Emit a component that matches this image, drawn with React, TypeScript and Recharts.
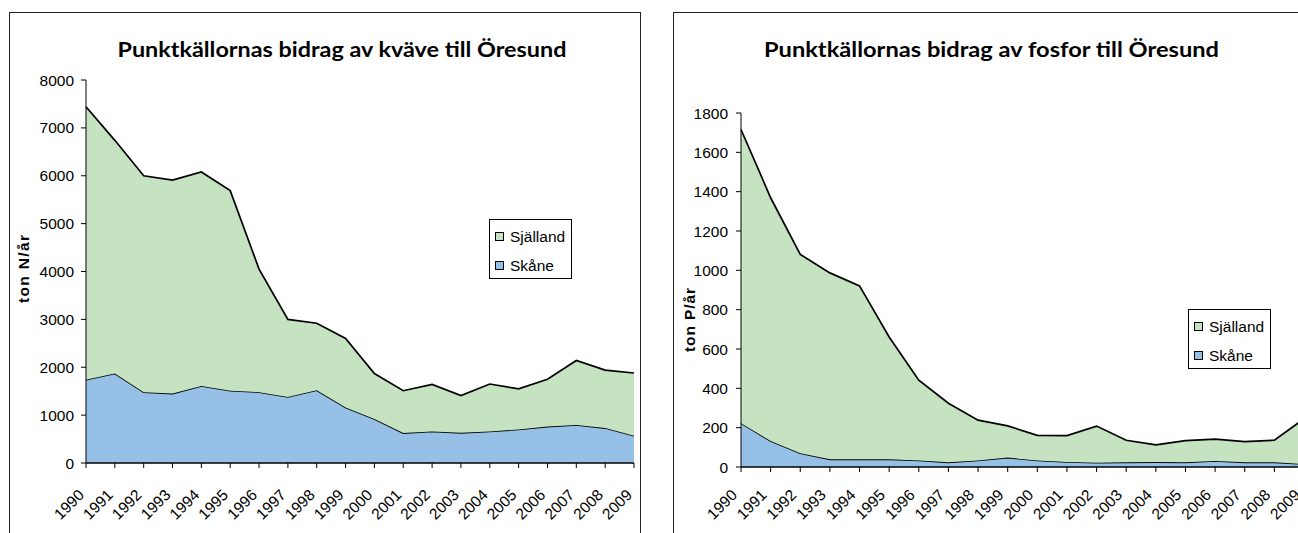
import React from 'react';
import { AreaChart, Area, XAxis, YAxis, Legend } from 'recharts';

const years = ['1990','1991','1992','1993','1994','1995','1996','1997','1998','1999','2000','2001','2002','2003','2004','2005','2006','2007','2008','2009'];

// Kväve (ton N/år)
const nSkane = [1740, 1870, 1480, 1450, 1610, 1510, 1480, 1380, 1520, 1160, 920, 625, 660, 630, 660, 700, 760, 795, 730, 570];
const nSjalland = [5700, 4870, 4520, 4460, 4470, 4180, 2570, 1620, 1400, 1440, 950, 885, 980, 780, 990, 850, 990, 1345, 1210, 1310];
const nTicks = [0, 1000, 2000, 3000, 4000, 5000, 6000, 7000, 8000];

// Fosfor (ton P/år)
const pSkane = [223, 132, 70, 39, 39, 39, 33, 24, 33, 48, 33, 26, 22, 24, 25, 24, 31, 24, 24, 15];
const pSjalland = [1493, 1237, 1011, 948, 882, 622, 408, 300, 205, 161, 128, 134, 186, 112, 88, 110, 111, 105, 112, 230];
const pTicks = [0, 200, 400, 600, 800, 1000, 1200, 1400, 1600, 1800];

const SKANE = 'Skåne';
const SJALLAND = 'Själland';
const fills: Record<string, string> = { [SKANE]: '#97C0E7', [SJALLAND]: '#C5E2C1' };

const nData = years.map((y, i) => ({ year: y, [SKANE]: nSkane[i], [SJALLAND]: nSjalland[i] }));
const pData = years.map((y, i) => ({ year: y, [SKANE]: pSkane[i], [SJALLAND]: pSjalland[i] }));

const ARIAL = '"Liberation Sans", Arial, sans-serif';
const FS = 15.5;

const makeXTick = (dx: number, dy: number) => (props: any) => {
  const { x, y, payload } = props;
  const ax = x + dx;
  const ay = y + dy;
  return (
    <text x={ax} y={ay} transform={`rotate(-45, ${ax}, ${ay})`} textAnchor="end" fontSize={FS} fontFamily={ARIAL} fill="#000">
      {payload.value}
    </text>
  );
};

const LegendBox = (props: any) => {
  const items = [SJALLAND, SKANE];
  return (
    <div style={{ width: 83, height: 60, border: '1px solid #000', background: '#fff', boxSizing: 'border-box', position: 'relative', fontFamily: ARIAL, fontSize: FS, color: '#000' }}>
      {items.map((name, i) => (
        <div key={name} style={{ position: 'absolute', left: 5, top: 12 + i * 28.5 - 4, height: 17, display: 'flex', alignItems: 'center', whiteSpace: 'nowrap' }}>
          <span style={{ width: 9, height: 9, border: '1px solid #000', background: fills[name], display: 'inline-block', boxSizing: 'border-box', marginRight: 6 }} />
          <span style={{ lineHeight: '17px' }}>{name}</span>
        </div>
      ))}
    </div>
  );
};

type PanelProps = {
  data: any[];
  ticks: number[];
  max: number;
  left: number;
  width: number;
  top: number;
  yAxisWidth: number;
  xAxisHeight: number;
  tickMargin: number;
  xdx: number;
  xdy: number;
  legendLeft: number;
  legendTop: number;
};

const Panel = (p: PanelProps) => (
  <div style={{ position: 'absolute', left: p.left, top: 0 }}>
    <AreaChart width={p.width} height={533} data={p.data} margin={{ top: p.top, right: 10, bottom: 10, left: 0 }}>
      <XAxis
        dataKey="year"
        height={p.xAxisHeight}
        interval={0}
        tickSize={5}
        tickMargin={0}
        axisLine={{ stroke: '#000', strokeWidth: 1.5 }}
        tickLine={{ stroke: '#000' }}
        tick={makeXTick(p.xdx, p.xdy)}
      />
      <YAxis
        type="number"
        domain={[0, p.max]}
        ticks={p.ticks}
        interval={0}
        width={p.yAxisWidth}
        tickSize={5}
        tickMargin={p.tickMargin}
        axisLine={{ stroke: '#000' }}
        tickLine={{ stroke: '#000' }}
        tick={{ fontSize: FS, fontFamily: ARIAL, fill: '#000' }}
      />
      <Area type="linear" dataKey={SKANE} name={SKANE} stackId="a" stroke="#000" strokeWidth={1.7} fill={fills[SKANE]} fillOpacity={1} dot={false} activeDot={false} isAnimationActive={false} />
      <Area type="linear" dataKey={SJALLAND} name={SJALLAND} stackId="a" stroke="#000" strokeWidth={1.7} fill={fills[SJALLAND]} fillOpacity={1} dot={false} activeDot={false} isAnimationActive={false} />
      <Legend
        layout="horizontal"
        verticalAlign="middle"
        align="center"
        content={LegendBox}
        wrapperStyle={{ left: p.legendLeft, top: p.legendTop, width: 'auto', height: 'auto' }}
      />
    </AreaChart>
  </div>
);

export default function App() {
  return (
    <div style={{ position: 'fixed', left: 0, top: 0, width: 1298, height: 533, overflow: 'hidden', background: '#fff' }}>
      <svg width={1298} height={533} style={{ position: 'absolute', left: 0, top: 0 }}>
        <rect x={9.5} y={12.5} width={631} height={600} fill="#fff" stroke="#222" strokeWidth={1} />
        <rect x={673.5} y={12.5} width={638} height={600} fill="#fff" stroke="#222" strokeWidth={1} />
        <text x={117.5} y={57} fontFamily="Lato, sans-serif" fontWeight={700} fontSize={20} textLength={449} lengthAdjust="spacingAndGlyphs" fill="#000">
          Punktkällornas bidrag av kväve till Öresund
        </text>
        <text x={764} y={57} fontFamily="Lato, sans-serif" fontWeight={700} fontSize={20} textLength={455} lengthAdjust="spacingAndGlyphs" fill="#000">
          Punktkällornas bidrag av fosfor till Öresund
        </text>
        <text x={0} y={0} transform="translate(29, 269) rotate(-90)" textAnchor="middle" fontFamily={ARIAL} fontWeight={700} fontSize={FS} textLength={68} lengthAdjust="spacing" fill="#000">
          ton N/år
        </text>
        <text x={0} y={0} transform="translate(695, 320) rotate(-90)" textAnchor="middle" fontFamily={ARIAL} fontWeight={700} fontSize={FS} textLength={64} lengthAdjust="spacing" fill="#000">
          ton P/år
        </text>
      </svg>
      <Panel data={nData} ticks={nTicks} max={8000} left={0} width={644} top={80} yAxisWidth={86} xAxisHeight={60} tickMargin={7} xdx={-1} xdy={28} legendLeft={489} legendTop={219} />
      <Panel data={pData} ticks={pTicks} max={1800} left={650} width={664} top={113} yAxisWidth={91} xAxisHeight={56} tickMargin={8} xdx={-3} xdy={24} legendLeft={538} legendTop={309} />
    </div>
  );
}
